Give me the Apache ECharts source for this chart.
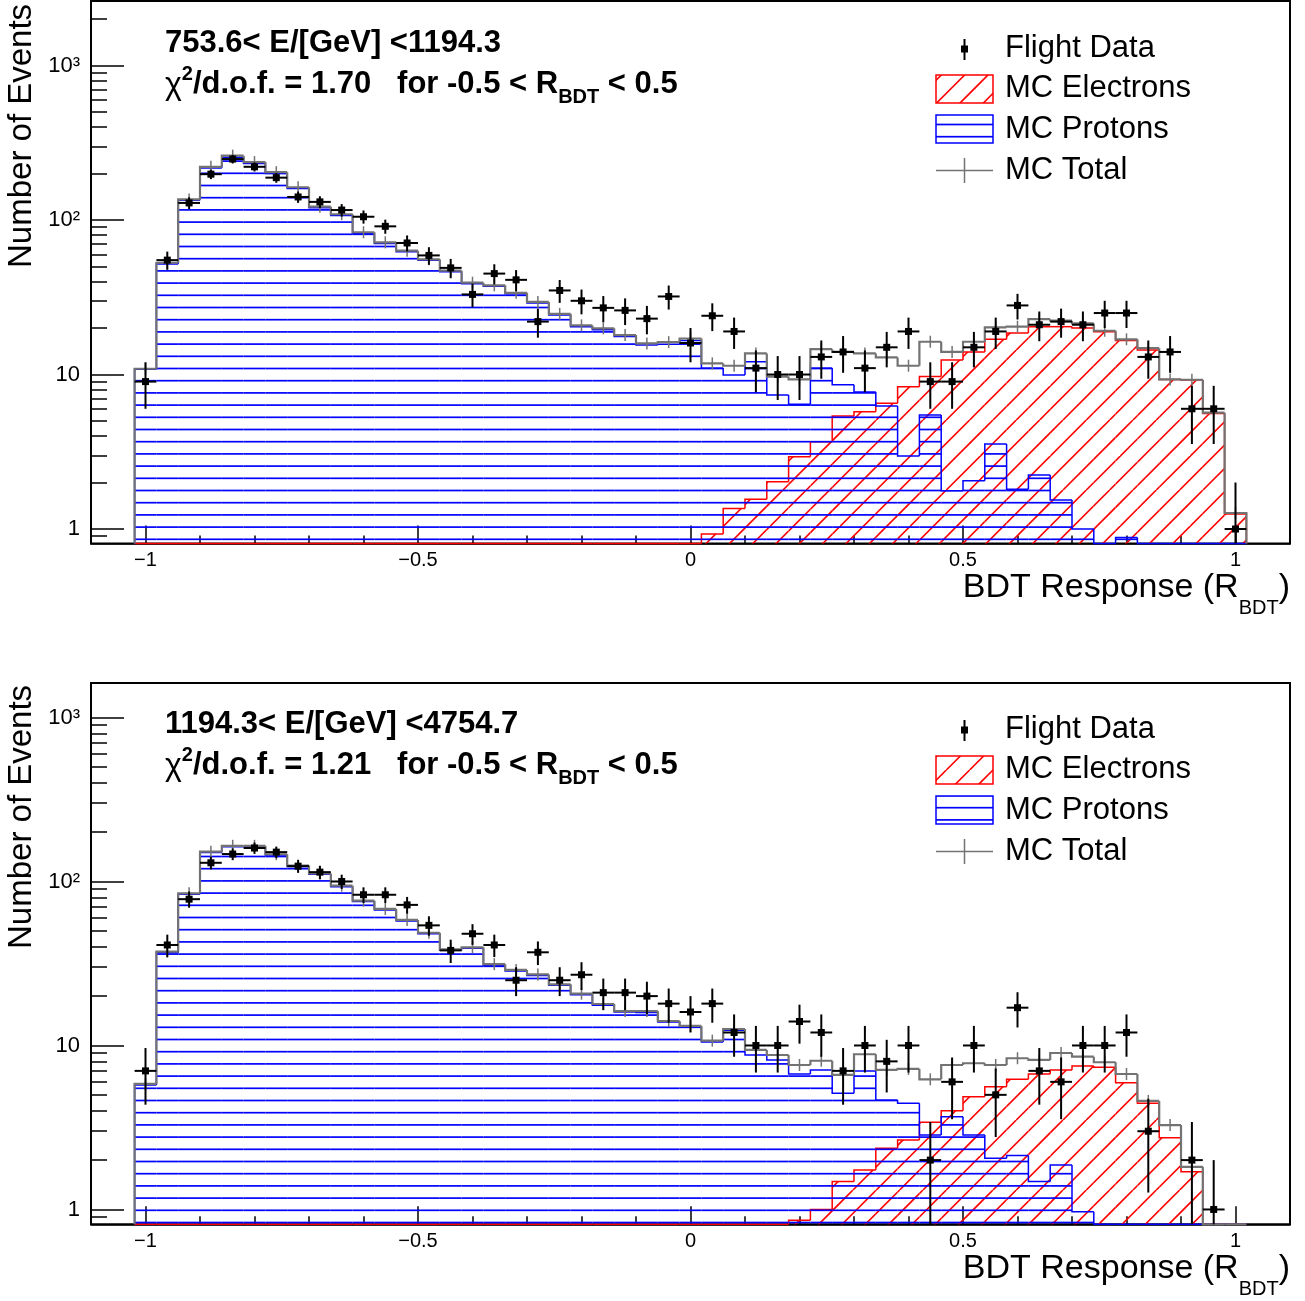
<!DOCTYPE html>
<html>
<head>
<meta charset="utf-8">
<script src="https://cdn.jsdelivr.net/npm/echarts@6.0.0/dist/echarts.min.js"></script>
<style>
html, body { margin: 0; padding: 0; background: #fff; }
#main { width: 1305px; height: 1301px; }
</style>
</head>
<body>
<div id="main"></div>
<script>
// bins of the BDT response (centres, width 0.04)
var binCenters = [-1.00,-0.96,-0.92,-0.88,-0.84,-0.80,-0.76,-0.72,-0.68,-0.64,-0.60,-0.56,-0.52,-0.48,-0.44,-0.40,-0.36,-0.32,-0.28,-0.24,
	-0.20,-0.16,-0.12,-0.08,-0.04,0.00,0.04,0.08,0.12,0.16,0.20,0.24,0.28,0.32,0.36,0.40,0.44,0.48,0.52,0.56,
	0.60,0.64,0.68,0.72,0.76,0.80,0.84,0.88,0.92,0.96,1.00];
var binWidth = 0.04;

// 753.6 < E < 1194.3 GeV
var topData = [9,55,129,198,248,221,188,141,131,116, 105,91,71,59,49,33,45,41,22,35,
	30,27,26,23,32,16,24,19,11,10, 10,13,14,11,15,19,9,9,15,19, 28,21,22,21,25,25,13,14,6,6, 1];
var topTotal = [10.9,52.9,136,221,261,237,204,163,122,109, 83.3,71.7,63.3,55.7,47,39.3,37.8,33.8,29.5,24.7,
	20.8,19.9,18.0,15.9,16.2,17.1,11.8,11.4,13.7,9.7, 9.3,14.6,14.0,13.7,12.9,11.4,16.3,14.0,16.3,20.2,
	20.4,22.8,22.3,21.4,19.2,16.9,14.8,9.3,9.25,5.66, 1.27];
var topProtons = [10.8,52,134,217,255,232,200,160,120,107, 82,70.5,62.3,54.8,46.3,38.7,37.2,33.3,29,24.3,
	20.4,19.5,17.6,15.5,15.7,16.6,11.0,9.93,12.1,7.37, 6.41,11.0,8.59,7.7,6.25,2.97,5.47,1.77,2.05,3.55,
	1.81,2.24,1.54,1.0,0,0.88,0,0,0,0, 0];
var topElectrons = [0,0,0,0,0,0,0,0,0,0, 0,0,0,0,0,0,0,0,0,0,
	0,0,0,0,0,0,0.93,1.36,1.56,2.02, 2.94,3.67,5.39,5.74,6.51,8.34,9.7,12.4,14.0,16.9,
	18.6,20.4,20.4,20.0,18.9,16.6,14.4,9.3,9.2,5.6, 1.25];

// 1194.3 < E < 4754.7 GeV
var botData = [7,41,78,130,147,160,151,124,114,100, 83,83,72,54,38,48,41,25,37,25,
	27,21,21,20,18,16,18,12,10,10, 14,12,7,10,8,10,2,6,10,5, 17,7,6,10,10,12,3,0,2,1, 0];
var botTotal = [5.83,37.3,84.7,152,165,165,146.6,125,112,94.3, 76.4,68,58.3,48.7,38.6,39.7,31.3,28.9,27.1,23.6,
	20.7,17.9,16.2,16.2,14.1,13.15,10.7,12.6,9.39,8.75, 7.6,8.07,6.61,8.84,7.09,7.19,6.22,7.6,7.79,7.6,
	8.36,8.16,9.0,8.55,7.9,6.7,4.59,3.27,1.82,0, 0];
var botProtons = [5.75,36.8,83.5,150,163,163,145,123.5,110.5,93, 75.4,67,57.5,48,38.1,39.2,30.9,28.5,26.7,23.3,
	20.4,17.6,16,15.9,13.9,12.9,10.5,12.4,8.75,8.16, 6.7,7.09,5.11,7.0,4.65,4.44,2.85,3.68,2.85,2.05,
	2.13,1.48,1.87,0.97,0,0,0,0,0,0, 0];
var botElectrons = [0,0,0,0,0,0,0,0,0,0, 0,0,0,0,0,0,0,0,0,0,
	0,0,0,0,0,0,0,0,0,0, 0.86,1.0,1.48,1.74,2.36,2.65,3.4,4.0,4.87,5.6,
	6.22,6.7,7.09,7.5,7.36,5.93,4.44,2.74,1.70,0, 0];

// axis ticks and labels
var xMajorTicks = [-1, -0.5, 0, 0.5, 1];
var xTickLabels = ['\u22121', '\u22120.5', '0', '0.5', '1'];
var xMinorTicks = [-1.0,-0.9,-0.8,-0.7,-0.6,-0.5,-0.4,-0.3,-0.2,-0.1,0,0.1,0.2,0.3,0.4,0.5,0.6,0.7,0.8,0.9,1.0];
var yMajorTicks = [1, 10, 100, 1000];
var yTickLabels = ['1', '10', '10\u00b2', '10\u00b3'];
var yMinorTicks = [0.9,2,3,4,5,6,7,8,9,20,30,40,50,60,70,80,90,200,300,400,500,600,700,800,900,2000];

var legendNames = ['Flight Data', 'MC Electrons', 'MC Protons', 'MC Total'];
var energyLabels = ['753.6< E/[GeV] <1194.3', '1194.3< E/[GeV] <4754.7'];
var chiValues = ['1.70', '1.21'];

var FONT = '"Liberation Sans", Arial, Helvetica, sans-serif';
var X_MIN = -1.1, X_MAX = 1.1;

var panels = [
	{ top: 1, height: 542.5, yMin: 0.806, yMax: 2615, dy: 0,
		data: topData, total: topTotal, protons: topProtons, electrons: topElectrons },
	{ top: 683, height: 541.3, yMin: 0.812, yMax: 1623, dy: 681,
		data: botData, total: botTotal, protons: botProtons, electrons: botElectrons }
];

//hatch patterns, anchored on the canvas like ROOT does
function bluePattern() {
	var c = document.createElement('canvas');
	c.width = 8; c.height = 61;
	var g = c.getContext('2d');
	g.strokeStyle = '#0000ff';
	g.lineWidth = 1.7;
	for (var j = 0; j < 5; j++) {
		var y = 2.5 + 12.2 * j;
		g.beginPath(); g.moveTo(0, y); g.lineTo(8, y); g.stroke();
	}
	return { image: c, repeat: 'repeat' };
}
function redPattern() {
	var s = 70;
	var c = document.createElement('canvas');
	c.width = s; c.height = s;
	var g = c.getContext('2d');
	g.strokeStyle = '#ff0000';
	g.lineWidth = 1.6;
	for (var k = -1; k <= 7; k++) {
		var cc = 13 + k * s / 3;
		g.beginPath(); g.moveTo(cc, 0); g.lineTo(cc - s, s); g.stroke();
	}
	return { image: c, repeat: 'repeat' };
}
var BLUE_FILL = bluePattern();
var RED_FILL = redPattern();
var GRAY = '#737373';

function histSeries(pi, vals, color, fill, width, z, withErr) {
	var ymin = panels[pi].yMin;
	var n = vals.length;
	var data = vals.map(function(v, i) {
		return [binCenters[i] - binWidth / 2, binCenters[i] + binWidth / 2, Math.max(v, ymin),
			i > 0 ? Math.max(vals[i - 1], ymin) : ymin, i, binCenters[i]];
	});
	return {
		type: 'custom',
		xAxisIndex: pi * 2,
		yAxisIndex: pi * 2,
		z: z,
		silent: true,
		data: data,
		encode: { x: [0, 1], y: 2 },
		renderItem: function(params, api) {
			var x0 = api.value(0), x1 = api.value(1), v = api.value(2), pv = api.value(3);
			var idx = api.value(4);
			var tl = api.coord([x0, v]);
			var br = api.coord([x1, ymin]);
			var pp = api.coord([x0, pv]);
			var kids = [];
			if (fill && v > ymin) {
				kids.push({ type: 'rect', shape: { x: tl[0], y: tl[1], width: br[0] - tl[0], height: br[1] - tl[1] },
					style: { fill: fill, stroke: null } });
			}
			var pts = [[pp[0], pp[1]], [tl[0], tl[1]], [br[0], tl[1]]];
			if (idx === n - 1) pts.push([br[0], br[1]]);
			kids.push({ type: 'polyline', shape: { points: pts },
				style: { stroke: color, lineWidth: width, fill: 'none' } });
			if (withErr && v > ymin * 1.05) {
				var c = api.coord([api.value(5), v]);
				kids.push({ type: 'line', shape: { x1: c[0], y1: c[1] - 6, x2: c[0], y2: c[1] + 6 },
					style: { stroke: color, lineWidth: 1.5 } });
			}
			return { type: 'group', children: kids };
		}
	};
}

function dataSeries(pi, vals) {
	var ymin = panels[pi].yMin;
	var data = [];
	vals.forEach(function(v, i) {
		if (v > 0) data.push([binCenters[i], v]);
	});
	return {
		type: 'custom',
		xAxisIndex: pi * 2,
		yAxisIndex: pi * 2,
		z: 6,
		silent: true,
		data: data,
		encode: { x: 0, y: 1 },
		renderItem: function(params, api) {
			var x = api.value(0), v = api.value(1);
			var err = Math.sqrt(v); // Poisson error of the counts
			var c = api.coord([x, v]);
			var lo = api.coord([x, Math.max(v - err, ymin)]);
			var hi = api.coord([x, v + err]);
			var l = api.coord([x - binWidth / 2, v]);
			var r = api.coord([x + binWidth / 2, v]);
			return { type: 'group', children: [
				{ type: 'line', shape: { x1: c[0], y1: lo[1], x2: c[0], y2: hi[1] }, style: { stroke: '#000', lineWidth: 2 } },
				{ type: 'line', shape: { x1: l[0], y1: c[1], x2: r[0], y2: c[1] }, style: { stroke: '#000', lineWidth: 2 } },
				{ type: 'rect', shape: { x: c[0] - 3.5, y: c[1] - 3.5, width: 7, height: 7 }, style: { fill: '#000' } }
			] };
		}
	};
}

var grids = [], xAxes = [], yAxes = [], series = [], graphics = [];
var axisLineStyle = { color: '#000', width: 1.5 };

panels.forEach(function(p, pi) {
	grids.push({ left: 91, right: 15, top: p.top, height: p.height, show: true,
		borderColor: '#000', borderWidth: 2, backgroundColor: 'transparent', containLabel: false, outerBoundsMode: 'none' });
	xAxes.push({
		type: 'value', gridIndex: pi, min: X_MIN, max: X_MAX, position: 'bottom',
		axisLine: { show: true, onZero: false, lineStyle: axisLineStyle },
		axisTick: { show: true, inside: true, length: 18, customValues: xMajorTicks, lineStyle: axisLineStyle },
		axisLabel: { show: true, customValues: xMajorTicks, margin: 7, color: '#000', fontSize: 20, fontFamily: FONT,
			formatter: function(v) { return xTickLabels[xMajorTicks.indexOf(Math.round(v * 10) / 10)]; } },
		splitLine: { show: false }
	}, {
		type: 'value', gridIndex: pi, min: X_MIN, max: X_MAX, position: 'bottom', offset: 0,
		axisLine: { show: false, onZero: false },
		axisTick: { show: true, inside: true, length: 8, customValues: xMinorTicks, lineStyle: axisLineStyle },
		axisLabel: { show: false },
		splitLine: { show: false }
	});
	var minors = yMinorTicks.filter(function(t) { return t > p.yMin && t < p.yMax; });
	yAxes.push({
		type: 'log', logBase: 10, gridIndex: pi, min: p.yMin, max: p.yMax, position: 'left',
		axisLine: { show: true, onZero: false, lineStyle: axisLineStyle },
		axisTick: { show: true, inside: true, length: 33, customValues: yMajorTicks, lineStyle: axisLineStyle },
		axisLabel: { show: true, customValues: yMajorTicks, margin: 11, color: '#000', fontSize: 22, fontFamily: FONT,
			formatter: function(v) { return yTickLabels[Math.round(Math.log(v) / Math.LN10)]; } },
		splitLine: { show: false }
	}, {
		type: 'log', logBase: 10, gridIndex: pi, min: p.yMin, max: p.yMax, position: 'left', offset: 0,
		axisLine: { show: false, onZero: false },
		axisTick: { show: true, inside: true, length: 16, customValues: minors, lineStyle: axisLineStyle },
		axisLabel: { show: false },
		splitLine: { show: false }
	});

	series.push(histSeries(pi, p.electrons, '#ff0000', RED_FILL, 1.5, 2, false));
	series.push(histSeries(pi, p.protons, '#0000ff', BLUE_FILL, 1.5, 3, false));
	series.push(histSeries(pi, p.total, GRAY, null, 2.2, 4, true));
	series.push(dataSeries(pi, p.data));
});

// text helpers
var mctx = document.createElement('canvas').getContext('2d');
function textRun(x, parts, alignRight) {
	var widths = parts.map(function(t) { mctx.font = t.font; return mctx.measureText(t.text).width; });
	var sum = widths.reduce(function(a, b) { return a + b; }, 0);
	var cx = alignRight ? x - sum : x;
	return parts.map(function(t, i) {
		var el = { type: 'text', x: cx, y: t.y, z: 100, silent: true,
			style: { text: t.text, font: t.font, fill: '#000', align: 'left', verticalAlign: 'middle' } };
		cx += widths[i];
		return el;
	});
}

var B31 = 'bold 31px ' + FONT, B20 = 'bold 20px ' + FONT;
panels.forEach(function(p, pi) {
	var dy = p.dy;
	graphics = graphics.concat(textRun(165, [{ text: energyLabels[pi], font: B31, y: 43 + dy }]));
	graphics = graphics.concat(textRun(165, [
		{ text: '\u03c7', font: '32px ' + FONT, y: 85 + dy },
		{ text: '2', font: B20, y: 74 + dy },
		{ text: '/d.o.f. = ' + chiValues[pi] + '   for -0.5 < R', font: B31, y: 84 + dy },
		{ text: 'BDT', font: B20, y: 97 + dy },
		{ text: ' < 0.5', font: B31, y: 84 + dy }
	]));
	// x axis title
	graphics = graphics.concat(textRun(1290, [
		{ text: 'BDT Response (R', font: '34px ' + FONT, y: 588 + dy },
		{ text: 'BDT', font: '20px ' + FONT, y: 608 + dy },
		{ text: ')', font: '34px ' + FONT, y: 588 + dy }
	], true));
	// y axis title
	graphics.push({ type: 'text', x: 22, y: 268 + dy, rotation: Math.PI / 2, z: 100, silent: true,
		style: { text: 'Number of Events', font: '33px ' + FONT, fill: '#000', align: 'left', verticalAlign: 'middle' } });

	// legend
	graphics.push(
		{ type: 'line', z: 100, shape: { x1: 964.5, y1: 39 + dy, x2: 964.5, y2: 60 + dy }, style: { stroke: '#000', lineWidth: 2 } },
		{ type: 'rect', z: 100, shape: { x: 961, y: 45.5 + dy, width: 7, height: 7 }, style: { fill: '#000' } },
		{ type: 'rect', z: 100, shape: { x: 936, y: 75 + dy, width: 57, height: 28 }, style: { fill: RED_FILL, stroke: '#ff0000', lineWidth: 1.5 } },
		{ type: 'rect', z: 100, shape: { x: 936, y: 115 + dy, width: 57, height: 28 }, style: { fill: BLUE_FILL, stroke: '#0000ff', lineWidth: 1.5 } },
		{ type: 'line', z: 100, shape: { x1: 936, y1: 170.5 + dy, x2: 993, y2: 170.5 + dy }, style: { stroke: GRAY, lineWidth: 1.5 } },
		{ type: 'line', z: 100, shape: { x1: 964.5, y1: 158 + dy, x2: 964.5, y2: 183 + dy }, style: { stroke: GRAY, lineWidth: 1.5 } }
	);
	var rowsY = [48, 88, 129, 170];
	legendNames.forEach(function(name, k) {
		graphics.push({ type: 'text', x: 1005, y: rowsY[k] + dy, z: 100, silent: true,
			style: { text: name, font: '31px ' + FONT, fill: '#000', align: 'left', verticalAlign: 'middle' } });
	});
});

var option = {
	backgroundColor: '#fff',
	animation: false,
	grid: grids,
	xAxis: xAxes,
	yAxis: yAxes,
	series: series,
	graphic: { elements: graphics }
};

var myChart = echarts.init(document.getElementById('main'), null, { renderer: 'canvas' });
myChart.setOption(option);
</script>
</body>
</html>
